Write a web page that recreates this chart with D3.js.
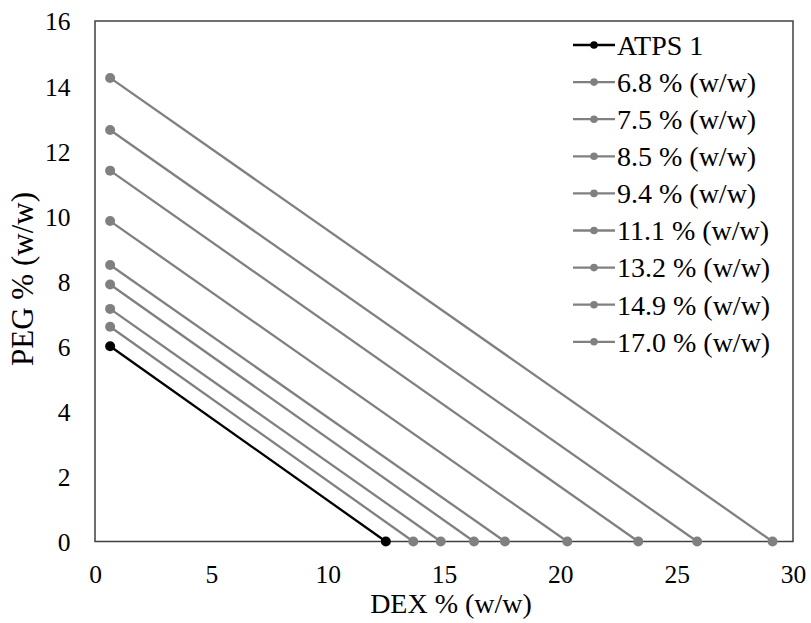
<!DOCTYPE html>
<html><head><meta charset="utf-8">
<script src="https://cdn.jsdelivr.net/npm/d3@7"></script>
<style>body{margin:0;background:#fff}svg{display:block}svg text{font-family:"Liberation Serif","Times New Roman",Times,serif;}</style>
</head><body><svg id="c" width="811" height="623"></svg>
<script>
const seriesNames = ["ATPS 1","6.8 % (w/w)","7.5 % (w/w)","8.5 % (w/w)","9.4 % (w/w)","11.1 % (w/w)","13.2 % (w/w)","14.9 % (w/w)","17.0 % (w/w)"];
const pegStart = [6.0, 6.6, 7.15, 7.9, 8.5, 9.85, 11.4, 12.65, 14.25];
const dexStart = [0.65, 0.65, 0.65, 0.65, 0.65, 0.65, 0.65, 0.65, 0.65];
const dexEnd = [12.5, 13.68, 14.86, 16.29, 17.62, 20.3, 23.35, 25.88, 29.12];
const pegEnd = [0, 0, 0, 0, 0, 0, 0, 0, 0];
const xTicks = [0,5,10,15,20,25,30];
const yTicks = [0,2,4,6,8,10,12,14,16];
const colors = ["#000000","#808080","#808080","#808080","#808080","#808080","#808080","#808080","#808080"];

const svg = d3.select("#c");
const L=95,R=793,T=21,B=541.5;
const x = d3.scaleLinear().domain([0,30]).range([L,R]);
const y = d3.scaleLinear().domain([0,16]).range([B,T]);

svg.append("rect").attr("x",L).attr("y",T).attr("width",R-L).attr("height",B-T)
  .attr("fill","none").attr("stroke","#404040").attr("stroke-width",1.5);

const xa = svg.append("g").attr("transform",`translate(0,${B})`)
  .call(d3.axisBottom(x).tickValues(xTicks).tickSize(0));
const ya = svg.append("g").attr("transform",`translate(${L},0)`)
  .call(d3.axisLeft(y).tickValues(yTicks).tickSize(0).tickPadding(24.5));
[xa,ya].forEach(a=>{a.select(".domain").remove();a.attr("font-family",null);a.selectAll("text").attr("font-size",25.5).attr("fill","#000");});
xa.selectAll("text").attr("dy","0.35em").attr("y",33);
ya.selectAll("text").attr("dy","0.35em");

const data = seriesNames.map((n,i)=>({name:n,color:colors[i],pts:[[dexStart[i],pegStart[i]],[dexEnd[i],pegEnd[i]]]}));
const line = d3.line().x(d=>x(d[0])).y(d=>y(d[1]));
const order = data.slice(1).concat([data[0]]);
order.forEach(s=>{
  svg.append("path").attr("d",line(s.pts)).attr("fill","none").attr("stroke",s.color).attr("stroke-width",2.3);
  s.pts.forEach(p=>svg.append("circle").attr("cx",x(p[0])).attr("cy",y(p[1])).attr("r",5).attr("fill",s.color));
});

svg.append("text").attr("x",451).attr("y",613).attr("text-anchor","middle")
  .attr("font-size",28).text("DEX % (w/w)");
svg.append("text").attr("transform",`translate(33,279) rotate(-90)`).attr("text-anchor","middle")
  .attr("font-size",31).text("PEG % (w/w)");

const lg = svg.append("g");
data.forEach((s,i)=>{
  const yy = 45 + i*37.1;
  lg.append("line").attr("x1",573).attr("x2",615).attr("y1",yy).attr("y2",yy).attr("stroke",s.color).attr("stroke-width",2.3);
  lg.append("circle").attr("cx",594).attr("cy",yy).attr("r",3.8).attr("fill",s.color);
  lg.append("text").attr("x",617).attr("y",yy).attr("dy","0.35em").attr("font-size",28).text(s.name);
});
</script></body></html>
